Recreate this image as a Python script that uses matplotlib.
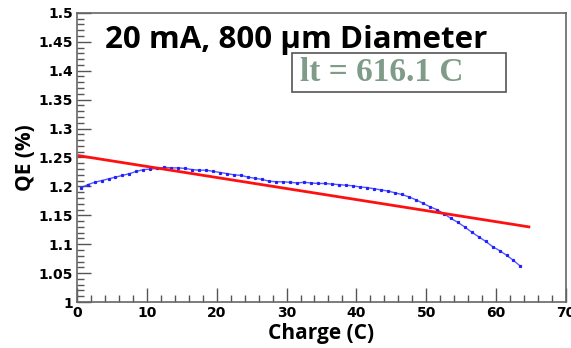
import numpy as np
import matplotlib
matplotlib.use("Agg")
import matplotlib.pyplot as plt
from matplotlib.patches import Rectangle
from matplotlib.ticker import MultipleLocator

# measured QE vs extracted charge (blue dots)
charge = [0.5, 1.5, 2.5, 3.5, 4.5, 5.5, 6.5, 7.5, 8.5, 9.5,
          10.5, 11.5, 12.5, 13.5, 14.5, 15.5, 16.5, 17.5, 18.5, 19.5,
          20.5, 21.5, 22.5, 23.5, 24.5, 25.5, 26.5, 27.5, 28.5, 29.5,
          30.5, 31.5, 32.5, 33.5, 34.5, 35.5, 36.5, 37.5, 38.5, 39.5,
          40.5, 41.5, 42.5, 43.5, 44.5, 45.5, 46.5, 47.5, 48.5, 49.5,
          50.5, 51.5, 52.5, 53.5, 54.5, 55.5, 56.5, 57.5, 58.5, 59.5,
          60.5, 61.5, 62.5, 63.5]
qe = [1.197, 1.203, 1.207, 1.210, 1.213, 1.216, 1.219, 1.222, 1.226, 1.229,
      1.230, 1.231, 1.233, 1.232, 1.232, 1.231, 1.229, 1.228, 1.228, 1.226,
      1.224, 1.222, 1.220, 1.219, 1.216, 1.214, 1.212, 1.209, 1.208, 1.208,
      1.207, 1.206, 1.207, 1.206, 1.205, 1.205, 1.204, 1.203, 1.202, 1.201,
      1.199, 1.198, 1.196, 1.194, 1.192, 1.189, 1.186, 1.182, 1.177, 1.171,
      1.165, 1.160, 1.153, 1.145, 1.138, 1.130, 1.121, 1.113, 1.105, 1.096,
      1.089, 1.081, 1.072, 1.062]

# exponential-lifetime fit (red line)
fit_charge = [0.3, 64.7]
fit_qe = [1.253, 1.130]

fig = plt.figure(figsize=(5.71, 3.48), dpi=100)
ax = fig.add_axes([0.135, 0.132, 0.856, 0.831])

ax.plot(charge, qe, color="#3030ff", lw=1.0, alpha=0.8)
ax.plot(charge, qe, ls="none", marker="s", ms=1.3, color="#2020ff")
ax.plot(fit_charge, fit_qe, color="#ff1010", lw=2)

ax.set_xlim(0, 70)
ax.set_ylim(1.0, 1.5)
ax.xaxis.set_major_locator(MultipleLocator(10))
ax.xaxis.set_minor_locator(MultipleLocator(2))
ax.yaxis.set_major_locator(MultipleLocator(0.05))
ax.yaxis.set_minor_locator(MultipleLocator(0.01))
ax.tick_params(which="both", direction="in", color="#555555", width=1)
ax.tick_params(which="major", length=10, labelsize=10, pad=3)
ax.tick_params(which="minor", length=5)
ax.yaxis.set_major_formatter(plt.FuncFormatter(lambda v, p: ("%.2f" % v).rstrip("0").rstrip(".")))
for lab in ax.get_xticklabels() + ax.get_yticklabels():
    lab.set_fontweight("bold")
for s in ax.spines.values():
    s.set_color("#666666")
    s.set_linewidth(1.2)

ax.set_xlabel("Charge (C)", fontsize=15, fontweight="bold", family="Open Sans", labelpad=2)
ax.set_ylabel("QE (%)", fontsize=15, fontweight="bold", family="Open Sans", labelpad=2)

fig.text(0.519, 0.885, "20 mA, 800 µm Diameter", ha="center", va="center",
         fontsize=22.5, fontweight="bold", family="Open Sans")

# lifetime box
fig.patches.append(Rectangle((292 / 571, 1 - 92 / 348), 214 / 571, 39 / 348,
                             transform=fig.transFigure, fc="white", ec="#555555", lw=1.2))
fig.text(0.669, 0.792, "lt = 616.1 C", ha="center", va="center", fontsize=24,
         fontweight="bold", family="Liberation Serif", color="#7f9c88")

fig.savefig("out.png", dpi=100)
